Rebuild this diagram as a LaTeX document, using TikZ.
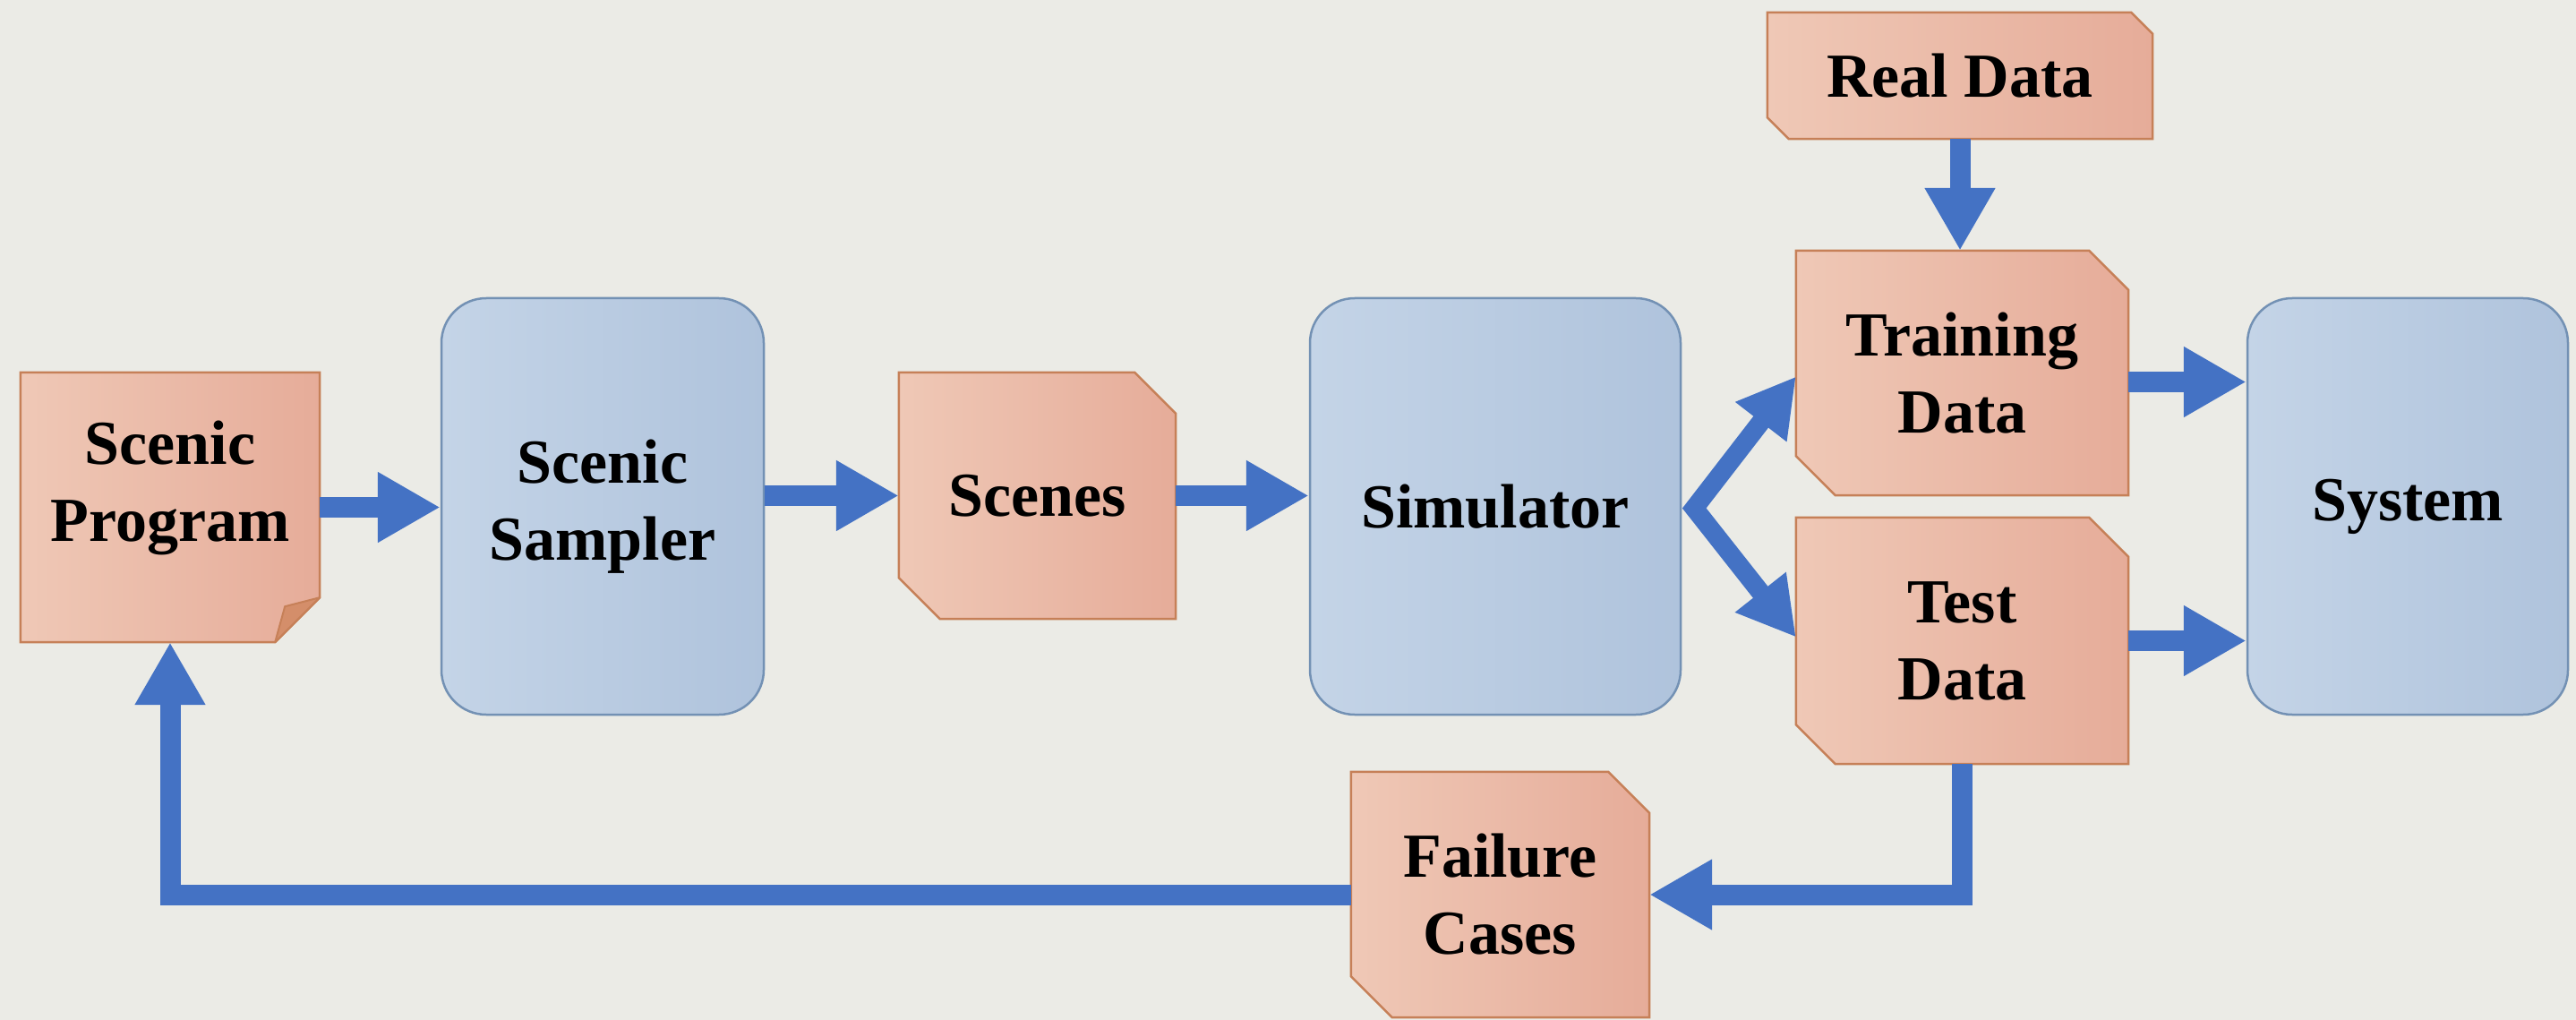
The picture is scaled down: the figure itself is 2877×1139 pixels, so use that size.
\documentclass[tikz,border=0pt]{standalone}
\usepackage{fontspec}
\setmainfont{Liberation Serif}
\usetikzlibrary{arrows.meta,calc}
\pgfdeclarelayer{background}
\pgfsetlayers{background,main}

\definecolor{paper}{RGB}{235,235,230}
\definecolor{procL}{RGB}{196,212,231}
\definecolor{procD}{RGB}{175,195,220}
\definecolor{procEdge}{RGB}{115,145,180}
\definecolor{dataL}{RGB}{239,200,182}
\definecolor{dataD}{RGB}{230,172,153}
\definecolor{dataEdge}{RGB}{198,128,88}
\definecolor{dataFold}{RGB}{212,142,106}
\definecolor{flow}{RGB}{68,114,196}

\tikzset{
  boxtext/.style={font=\fontsize{70pt}{86pt}\selectfont\bfseries, align=center, text=black, inner sep=0pt},
  procbox/.style={boxtext, draw=procEdge, line width=2.5pt, rounded corners=50pt,
                  left color=procL, right color=procD,
                  minimum width=#1, minimum height=465pt},
  databox/.style={boxtext},
  datafill/.style={draw=dataEdge, line width=2.5pt, line join=miter,
                   left color=dataL, right color=dataD},
  flowline/.style={draw=flow, line width=23pt, line join=miter},
  forkline/.style={draw=flow, line width=21pt, line join=miter,
                   {Triangle[width=68pt,length=64pt]}-{Triangle[width=68pt,length=64pt]}},
  >={Triangle[width=74pt,length=70pt]}
}

% outline of a data box with two cut corners (top right, bottom left)
\newcommand{\snipshape}[2]{%
  \path[datafill] (#1.north west) -- ([xshift=-#2]#1.north east)
    -- ([yshift=-#2]#1.north east) -- (#1.south east)
    -- ([xshift=#2]#1.south west) -- ([yshift=#2]#1.south west) -- cycle;}

\begin{document}
\begin{tikzpicture}[x=1pt, y=-1pt]
\useasboundingbox (0,0) rectangle (2877,1139);

% process blocks
\node[procbox=360pt] (sampler) at (673,565.5) {Scenic\\Sampler};
\node[procbox=414pt] (sim) at (1670,565.5) {Simulator};
\node[procbox=358pt] (sys) at (2689,565.5) {System};

% data blocks (text only; outlines go on the background layer)
\node[databox, minimum width=334pt, minimum height=301pt] (prog) at (190,566.5)
  {Scenic\\Program\rule[-58pt]{0pt}{0pt}};
\node[databox, minimum width=309pt, minimum height=275pt] (scenes) at (1158.5,553.5) {Scenes};
\node[databox, minimum width=430pt, minimum height=141pt] (real) at (2189,84.5) {Real Data};
\node[databox, minimum width=371pt, minimum height=273pt] (train) at (2191.5,416.5) {Training\\Data};
\node[databox, minimum width=371pt, minimum height=275pt] (test) at (2191.5,715.5) {Test\\Data};
\node[databox, minimum width=333pt, minimum height=274pt] (fail) at (1675.5,999) {Failure\\Cases};

\begin{pgfonlayer}{background}
  \fill[paper] (0,0) rectangle (2877,1139);
  % program sheet with a curled corner
  \path[datafill] (prog.north west) -- (prog.north east)
    -- ([yshift=50pt]prog.south east) -- ([xshift=-50pt]prog.south east)
    -- (prog.south west) -- cycle;
  \path[draw=dataEdge, line width=2pt, fill=dataFold, line join=round]
    ([yshift=50pt]prog.south east) -- ([xshift=-50pt]prog.south east)
    -- ([xshift=-39pt,yshift=40pt]prog.south east) -- cycle;
  \snipshape{scenes}{46pt}
  \snipshape{real}{24pt}
  \snipshape{train}{44pt}
  \snipshape{test}{44pt}
  \snipshape{fail}{46pt}
\end{pgfonlayer}

% flow of data
\draw[flowline, ->] (prog.east) -- (prog.east -| sampler.west);
\draw[flowline, ->] (sampler.east |- scenes.west) -- (scenes.west);
\draw[flowline, ->] (scenes.east) -- (scenes.east -| sim.west);
\coordinate (fork) at ([xshift=14pt,yshift=-2pt]sim.east);
\draw[forkline] ([yshift=-4pt]train.west) -- (fork) -- ([yshift=4pt]test.west);
\draw[flowline, ->] (real.south) -- (real.south |- train.north);
\draw[flowline, ->] ([yshift=-10pt]train.east) -- ([yshift=-10pt]train.east -| sys.west);
\draw[flowline, ->] (test.east) -- (test.east -| sys.west);
\draw[flowline, ->] (test.south) |- (fail.east);
\draw[flowline, ->] (fail.west) -| (prog.south);
\end{tikzpicture}
\end{document}
